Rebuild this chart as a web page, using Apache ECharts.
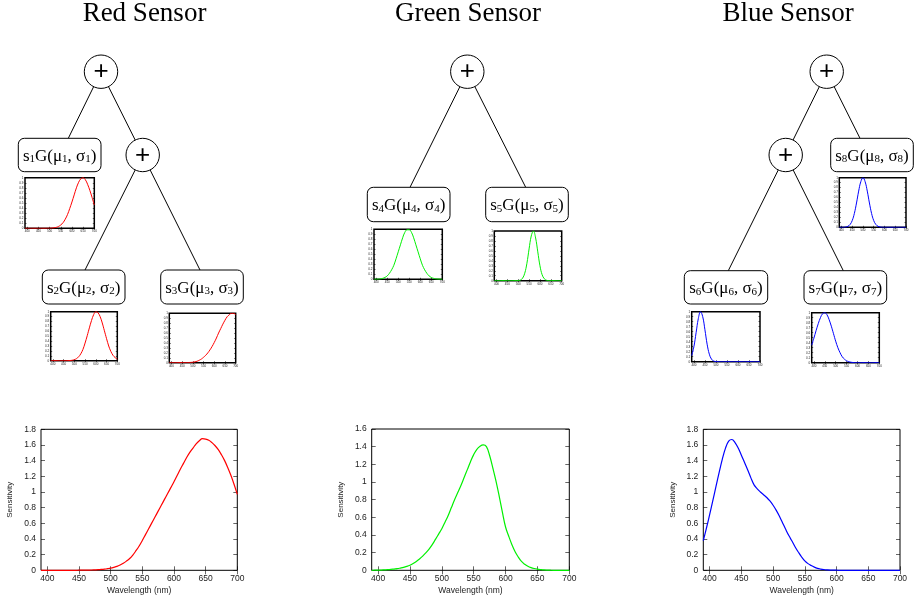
<!DOCTYPE html>
<html>
<head>
<meta charset="utf-8">
<title>Sensor sensitivity trees</title>
<script src="https://cdn.jsdelivr.net/npm/echarts@6/dist/echarts.min.js"></script>
<style>
  html, body { margin: 0; padding: 0; background: #fff; }
  #chart { width: 916px; height: 599px; }
</style>
</head>
<body>
<div id="chart"></div>
<script>
// wavelength samples (nm): 10 nm for the small component plots, 5 nm for the summed curves
const wavelengths = [390, 400, 410, 420, 430, 440, 450, 460, 470, 480, 490, 500, 510, 520, 530, 540,
  550, 560, 570, 580, 590, 600, 610, 620, 630, 640, 650, 660, 670, 680, 690, 700];
const fineWavelengths = [390, 395, 400, 405, 410, 415, 420, 425, 430, 435, 440, 445, 450, 455, 460, 465,
  470, 475, 480, 485, 490, 495, 500, 505, 510, 515, 520, 525, 530, 535, 540, 545, 550, 555, 560, 565,
  570, 575, 580, 585, 590, 595, 600, 605, 610, 615, 620, 625, 630, 635, 640, 645, 650, 655, 660, 665,
  670, 675, 680, 685, 690, 695, 700];
const xTicks = [400, 450, 500, 550, 600, 650, 700];

// summed sensor curves (bottom row), on fineWavelengths
const redSum = [0, 0, 0, 0, 0, 0, 0, 0, 0, 0, 0, 0,
  0.001, 0.001, 0.002, 0.003, 0.004, 0.006, 0.008, 0.011, 0.015, 0.021,
  0.028, 0.038, 0.05, 0.068, 0.09, 0.118, 0.15, 0.195, 0.25, 0.31,
  0.38, 0.455, 0.53, 0.605, 0.68, 0.755, 0.83, 0.905, 0.98, 1.055,
  1.13, 1.21, 1.29, 1.365, 1.44, 1.505, 1.56, 1.615, 1.655, 1.68,
  1.675, 1.66, 1.63, 1.59, 1.54, 1.475, 1.4, 1.31, 1.21, 1.095, 0.97];
const greenSum = [0, 0.001, 0.002, 0.003, 0.005, 0.007, 0.01, 0.014, 0.018, 0.025,
  0.033, 0.044, 0.058, 0.077, 0.1, 0.128, 0.16, 0.198, 0.24, 0.29,
  0.35, 0.41, 0.47, 0.545, 0.62, 0.71, 0.8, 0.88, 0.96, 1.05,
  1.14, 1.23, 1.31, 1.37, 1.405, 1.42, 1.4, 1.3, 1.16, 1.01,
  0.84, 0.66, 0.49, 0.385, 0.29, 0.21, 0.15, 0.1, 0.068, 0.045,
  0.03, 0.02, 0.013, 0.008, 0.004, 0.002, 0.001, 0, 0, 0, 0, 0, 0];
const blueSum = [0.38, 0.54, 0.71, 0.89, 1.07, 1.25, 1.42, 1.56, 1.65, 1.67,
  1.63, 1.56, 1.47, 1.375, 1.28, 1.18, 1.09, 1.04, 1.0, 0.965,
  0.93, 0.885, 0.83, 0.765, 0.69, 0.605, 0.52, 0.44, 0.37, 0.295,
  0.23, 0.17, 0.12, 0.085, 0.06, 0.04, 0.025, 0.016, 0.01, 0.006,
  0.003, 0.002, 0.001, 0, 0, 0, 0, 0, 0, 0,
  0, 0, 0, 0, 0, 0, 0, 0, 0, 0, 0, 0, 0];

// individual gaussian components (small plots), on wavelengths
const s1 = [0, 0, 0, 0, 0, 0, 0, 0, 0, 0, 0.001, 0.002, 0.0045, 0.01, 0.019, 0.037,
  0.066, 0.11, 0.18, 0.27, 0.39, 0.52, 0.66, 0.8, 0.91, 0.98, 1.0, 0.96, 0.87, 0.75, 0.61, 0.46];
const s2 = [0, 0, 0, 0, 0, 0, 0, 0.001, 0.002, 0.004, 0.009, 0.021, 0.042, 0.08, 0.14, 0.23,
  0.36, 0.51, 0.67, 0.82, 0.94, 1.0, 0.98, 0.9, 0.77, 0.61, 0.45, 0.3, 0.19, 0.11, 0.063, 0.032];
const s3 = [0, 0, 0, 0, 0, 0, 0, 0.001, 0.002, 0.004, 0.006, 0.01, 0.018, 0.03, 0.05, 0.075,
  0.11, 0.15, 0.2, 0.26, 0.33, 0.41, 0.5, 0.6, 0.69, 0.78, 0.86, 0.93, 0.97, 1.0, 1.0, 0.97];
const s4 = [0.001, 0.002, 0.004, 0.0096, 0.02, 0.038, 0.068, 0.12, 0.19, 0.28, 0.41, 0.55, 0.69, 0.83, 0.94, 0.99,
  0.99, 0.94, 0.83, 0.69, 0.55, 0.41, 0.28, 0.19, 0.12, 0.068, 0.038, 0.02, 0.0096, 0.004, 0.002, 0.001];
const s5 = [0, 0, 0, 0, 0, 0, 0, 0, 0, 0, 0, 0.003, 0.013, 0.05, 0.15, 0.35,
  0.64, 0.9, 1.0, 0.86, 0.58, 0.3, 0.12, 0.039, 0.0096, 0.002, 0, 0, 0, 0, 0, 0];
const s6 = [0.12, 0.3, 0.58, 0.86, 1.0, 0.9, 0.64, 0.35, 0.15, 0.05, 0.013, 0.003, 0, 0, 0, 0,
  0, 0, 0, 0, 0, 0, 0, 0, 0, 0, 0, 0, 0, 0, 0, 0];
const s7 = [0.35, 0.49, 0.64, 0.78, 0.9, 0.98, 1.0, 0.96, 0.86, 0.73, 0.58, 0.43, 0.3, 0.2, 0.12, 0.071,
  0.039, 0.02, 0.0096, 0.004, 0.002, 0, 0, 0, 0, 0, 0, 0, 0, 0, 0, 0];
const s8 = [0, 0, 0, 0.006, 0.02, 0.056, 0.135, 0.28, 0.49, 0.73, 0.92, 1.0, 0.92, 0.73, 0.49, 0.28,
  0.135, 0.056, 0.02, 0.006, 0.001, 0, 0, 0, 0, 0, 0, 0, 0, 0, 0, 0];

const RED = '#ff0000', GREEN = '#00f000', BLUE = '#0000ff';

const chart = echarts.init(document.getElementById('chart'));
const option = { animation: false, grid: [], xAxis: [], yAxis: [], series: [], graphic: [] };

// one plot = grid + 4 axes (mirrored inside ticks, gnuplot look) + one line
function addPlot(box, xs, values, color, big) {
  const g = option.grid.length;
  const fs = big ? 8.5 : 3;
  const tick = big ? 4 : 1.5;
  option.grid.push({
    left: box.left, top: box.top, width: box.width, height: box.height,
    show: true, borderColor: '#000', borderWidth: big ? 1 : 1.5, backgroundColor: '#fff'
  });
  const base = {
    gridIndex: g, type: 'value',
    axisLine: { show: false }, splitLine: { show: false },
    axisTick: { inside: true, length: tick, lineStyle: { color: '#000', width: 0.6 } }
  };
  option.xAxis.push(Object.assign({}, base, {
    min: 390, max: 700,
    axisTick: Object.assign({}, base.axisTick, { customValues: xTicks }),
    axisLabel: { customValues: xTicks, fontSize: fs, color: '#222', margin: big ? 4 : 1.5, fontFamily: 'Liberation Sans' },
    name: big ? 'Wavelength (nm)' : '', nameLocation: 'middle', nameGap: 15.5,
    nameTextStyle: { fontSize: 8.5, color: '#222', fontFamily: 'Liberation Sans' }
  }));
  option.xAxis.push(Object.assign({}, base, {
    min: 390, max: 700, position: 'top',
    axisTick: Object.assign({}, base.axisTick, { customValues: xTicks }),
    axisLabel: { show: false }
  }));
  const yMax = big ? box.yMax : 1;
  const yStep = big ? 0.2 : 0.1;
  option.yAxis.push(Object.assign({}, base, {
    min: 0, max: yMax, interval: yStep,
    axisLabel: { fontSize: fs, color: '#222', margin: big ? 5 : 1.5, fontFamily: 'Liberation Sans' },
    name: big ? 'Sensitivity' : '', nameLocation: 'middle', nameGap: 27, nameRotate: 90,
    nameTextStyle: { fontSize: 8, color: '#222', fontFamily: 'Liberation Sans' }
  }));
  option.yAxis.push(Object.assign({}, base, {
    min: 0, max: yMax, interval: yStep, position: 'right', axisLabel: { show: false }
  }));
  option.series.push({
    type: 'line', xAxisIndex: 2 * g, yAxisIndex: 2 * g,
    data: xs.map((w, i) => [w, values[i]]),
    smooth: 0.4, showSymbol: false, silent: true,
    lineStyle: { color: color, width: big ? 1.2 : 1 }
  });
}

// bottom row
addPlot({ left: 41, top: 429.3, width: 196.3, height: 141, yMax: 1.8 }, fineWavelengths, redSum, RED, true);
addPlot({ left: 371.7, top: 429, width: 197.6, height: 141.3, yMax: 1.6 }, fineWavelengths, greenSum, GREEN, true);
addPlot({ left: 703.3, top: 429.3, width: 196.7, height: 141, yMax: 1.8 }, fineWavelengths, blueSum, BLUE, true);

// small component plots
addPlot({ left: 25, top: 177.7, width: 69.3, height: 50.6 }, wavelengths, s1, RED, false);
addPlot({ left: 50.7, top: 311.7, width: 66.6, height: 49 }, wavelengths, s2, RED, false);
addPlot({ left: 169.3, top: 313.3, width: 66.4, height: 49.4 }, wavelengths, s3, RED, false);
addPlot({ left: 374, top: 229.3, width: 68.3, height: 50 }, wavelengths, s4, GREEN, false);
addPlot({ left: 494.3, top: 231, width: 67.4, height: 49.7 }, wavelengths, s5, GREEN, false);
addPlot({ left: 691.7, top: 311.7, width: 68.3, height: 50 }, wavelengths, s6, BLUE, false);
addPlot({ left: 811.7, top: 312.7, width: 67.6, height: 50 }, wavelengths, s7, BLUE, false);
addPlot({ left: 839.3, top: 177.7, width: 66.7, height: 49.6 }, wavelengths, s8, BLUE, false);

// tree diagrams (layout only)
const serif = 'Liberation Serif';
const titles = [
  { text: 'Red Sensor', x: 144.5 },
  { text: 'Green Sensor', x: 468 },
  { text: 'Blue Sensor', x: 788 }
];
titles.forEach(t => option.graphic.push({
  type: 'text', x: t.x, y: 14, z: 10,
  style: { text: t.text, fontSize: 27, fontFamily: serif, fill: '#000', align: 'center', verticalAlign: 'middle', textAlign: 'center', textVerticalAlign: 'middle' }
}));

const sums = [[101, 71.7], [142.7, 155], [467.3, 71.7], [826.7, 71.7], [785.7, 155]];
const edges = [
  [101, 71.7, 68.3, 138.3], [101, 71.7, 142.7, 155],
  [142.7, 155, 85, 270], [142.7, 155, 200, 270],
  [467.3, 71.7, 410, 187.3], [467.3, 71.7, 525.7, 187.3],
  [826.7, 71.7, 785.7, 155], [826.7, 71.7, 860, 138.3],
  [785.7, 155, 728.3, 270.7], [785.7, 155, 843.3, 270.7]
];
const boxes = [
  [18.3, 138.3, 82.7, 33.4], [42.3, 270, 82.7, 34], [160.7, 270, 82.6, 34],
  [367.3, 187.3, 82.7, 34.4], [485.7, 187.3, 82.6, 34.4],
  [684.3, 270.7, 83.4, 33.3], [804, 270.7, 82.7, 33.3], [830.7, 138.3, 82.6, 33.4]
];

edges.forEach(e => option.graphic.push({
  type: 'line', z: 10, shape: { x1: e[0], y1: e[1], x2: e[2], y2: e[3] },
  style: { stroke: '#000', lineWidth: 1 }
}));
sums.forEach(c => {
  option.graphic.push({
    type: 'circle', z: 11, shape: { cx: c[0], cy: c[1], r: 16.7 },
    style: { fill: '#fff', stroke: '#000', lineWidth: 1 }
  });
  option.graphic.push({
    type: 'text', z: 12, x: c[0], y: c[1] + 0.5,
    style: { text: '+', fontSize: 26, fontFamily: 'Liberation Sans', fill: '#000', align: 'center', verticalAlign: 'middle', textAlign: 'center', textVerticalAlign: 'middle' }
  });
});
boxes.forEach((b, i) => {
  const k = i + 1;
  option.graphic.push({
    type: 'rect', z: 11, shape: { x: b[0], y: b[1], width: b[2], height: b[3], r: 6 },
    style: { fill: '#fff', stroke: '#000', lineWidth: 1 }
  });
  option.graphic.push({
    type: 'text', z: 12, x: b[0] + b[2] / 2, y: b[1] + b[3] / 2,
    style: {
      text: '{a|s}{b|' + k + '}{a|G(μ}{b|' + k + '}{a|, σ}{b|' + k + '}{a|)}',
      align: 'center', verticalAlign: 'middle', textAlign: 'center', textVerticalAlign: 'middle',
      rich: {
        a: { fontSize: 17, fontFamily: serif, fill: '#000', color: '#000', lineHeight: 20, verticalAlign: 'bottom' },
        b: { fontSize: 11, fontFamily: serif, fill: '#000', color: '#000', lineHeight: 7, verticalAlign: 'bottom' }
      }
    }
  });
});

chart.setOption(option);
</script>
</body>
</html>
